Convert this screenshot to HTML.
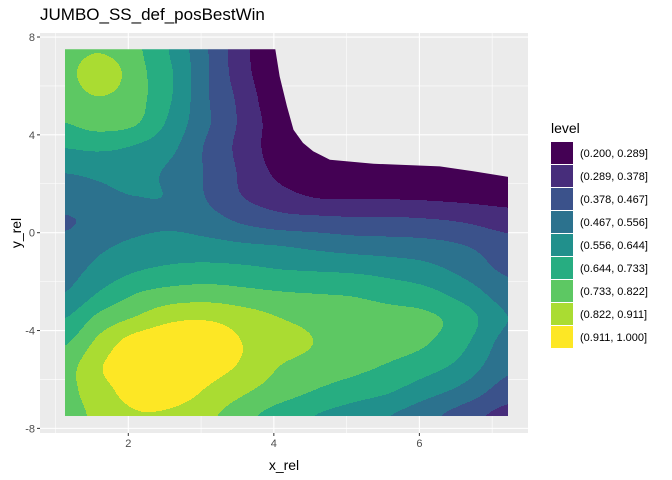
<!DOCTYPE html>
<html><head><meta charset="utf-8"><style>
body{margin:0;background:#fff;}
svg{display:block;font-family:"Liberation Sans",sans-serif;}
</style></head><body>
<svg id="chart" width="672" height="480" viewBox="0 0 672 480">
<rect x="0" y="0" width="672" height="480" fill="#fff"/>
<text x="40" y="20" font-size="17" fill="#000">JUMBO_SS_def_posBestWin</text>
<g id="panel"></g>
<g id="axes"></g>
<text x="284" y="470" font-size="14" text-anchor="middle" fill="#000">x_rel</text>
<text transform="translate(21,233) rotate(-90)" font-size="14" text-anchor="middle" fill="#000">y_rel</text>
<g id="legend"></g>
</svg>
<script>
const xs = [1.13,1.6,2.1,2.6,3.1,3.6,4.1,4.6,5.1,5.6,6.1,6.6,7.22];
const ys = [7.5,6.5,5.5,4.5,3.5,2.5,1.5,0.5,-0.5,-1.5,-2.5,-3.5,-4.5,-5.5,-6.5,-7.5];
// values in level-band units (0..9)
const z = [
[6.5,6.9,6.2,4.85,3.0,1.2,0.1,0.1,0.1,0.1,0.1,0.1,0.1],
[6.6,7.7,6.4,5.05,3.05,1.3,0.05,0.1,0.1,0.1,0.1,0.1,0.1],
[6.4,6.95,6.35,5.0,3.05,1.6,0.1,0.1,0.1,0.1,0.1,0.1,0.1],
[6.0,6.4,6.1,4.7,3.1,1.7,0.4,0.1,0.1,0.1,0.1,0.1,0.1],
[5.05,5.2,4.9,4.2,2.8,1.6,0.4,0.1,0.1,0.1,0.1,0.1,0.1],
[4.05,4.2,4.3,3.8,2.85,1.75,0.7,0.2,0.15,0.15,0.15,0.15,0.1],
[3.6,3.8,4.0,3.9,2.9,1.95,1.35,0.9,0.85,0.85,0.8,0.7,0.6],
[2.9,3.3,3.7,3.8,3.4,2.8,2.4,2.3,2.2,2.2,2.1,1.9,1.5],
[3.3,3.8,4.2,4.4,4.3,4.1,3.95,3.7,3.5,3.4,3.3,3.0,2.4],
[3.6,4.3,4.9,5.2,5.3,5.2,5.0,4.9,4.8,4.6,4.3,3.7,2.8],
[4.05,5.1,6.0,6.4,6.5,6.3,6.1,6.0,5.9,5.6,5.3,4.6,3.5],
[5.0,6.3,7.1,7.8,7.9,7.5,7.0,6.7,6.5,6.4,6.2,5.5,4.0],
[5.9,7.3,8.5,8.8,8.6,7.95,7.4,6.95,6.6,6.4,6.05,5.2,3.6],
[6.6,7.9,8.7,8.8,8.4,7.8,6.95,6.6,6.25,5.85,5.35,4.6,3.2],
[6.7,7.6,8.4,8.5,7.85,7.1,6.45,5.9,5.45,5.05,4.35,3.65,2.5],
[6.5,7.3,7.9,7.8,7.2,6.3,5.5,4.95,4.5,4.0,3.3,2.5,1.6]
];
const levelLabels = ["(0.200, 0.289]","(0.289, 0.378]","(0.378, 0.467]","(0.467, 0.556]","(0.556, 0.644]","(0.644, 0.733]","(0.733, 0.822]","(0.822, 0.911]","(0.911, 1.000]"];
const levelColors = ["#440154","#472D7B","#3B528B","#2C728E","#21908C","#27AD81","#5DC863","#AADC32","#FDE725"];
const xTicks = [2,4,6];
const yTicks = [-8,-4,0,4,8];
const naBoundary = [[4.02,7.5],[4.08,6.39],[4.18,5.17],[4.27,4.21],[4.40,3.67],[4.54,3.33],[4.77,2.98],[5.37,2.82],[6.28,2.71],[6.74,2.51],[7.22,2.28]];

const NS="http://www.w3.org/2000/svg";
const PL=40,PR=528,PT=33,PB=433;
const sx = v => 128.3 + (v-2)*72.77;
const sy = v => 232.7 - v*24.46;
const ix = px => 2 + (px-128.3)/72.77;
const iy = py => (232.7-py)/24.46;
function mk(tag,attrs,parent){const e=document.createElementNS(NS,tag);for(const k in attrs)e.setAttribute(k,attrs[k]);parent.appendChild(e);return e;}
const panel=document.getElementById('panel');
const axes=document.getElementById('axes');
const bg=mk('rect',{x:PL,y:PT,width:PR-PL,height:PB-PT,fill:'#EBEBEB'},panel);


for(let v=1;v<=7;v++){const major=v%2===0;const l=mk('line',{x1:sx(v),x2:sx(v),y1:PT,y2:PB,stroke:'#fff','stroke-width':major?1.1:0.55},panel);

}
for(let v=-8;v<=8;v+=2){const major=v%4===0;const l=mk('line',{x1:PL,x2:PR,y1:sy(v),y2:sy(v),stroke:'#fff','stroke-width':major?1.1:0.55},panel);

}
const defs=mk('defs',{},panel);
const cp=mk('clipPath',{id:'dataclip'},defs);
let pts=[[xs[0],ys[ys.length-1]],[xs[0],ys[0]]].concat(naBoundary).concat([[xs[xs.length-1],ys[ys.length-1]]]);
mk('polygon',{points:pts.map(p=>sx(p[0])+','+sy(p[1])).join(' ')},cp);
const field=mk('g',{'clip-path':'url(#dataclip)'},panel);


function fracIndex(arr,v,desc){
  let i=0;
  if(!desc){while(i<arr.length-2&&v>arr[i+1])i++;}
  else{while(i<arr.length-2&&v<arr[i+1])i++;}
  let t=(v-arr[i])/(arr[i+1]-arr[i]);t=Math.max(0,Math.min(1,t));
  return [i,t];
}
function cr(p0,p1,p2,p3,t){
  return 0.5*((2*p1)+(-p0+p2)*t+(2*p0-5*p1+4*p2-p3)*t*t+(-p0+3*p1-3*p2+p3)*t*t*t);
}
function zAt(j,i){j=Math.max(0,Math.min(ys.length-1,j));i=Math.max(0,Math.min(xs.length-1,i));return z[j][i];}
function interp(x,y){
  const [i,tx]=fracIndex(xs,x,false);
  const [j,ty]=fracIndex(ys,y,true);
  const rows=[];
  for(let dj=-1;dj<=2;dj++){
    rows.push(cr(zAt(j+dj,i-1),zAt(j+dj,i),zAt(j+dj,i+1),zAt(j+dj,i+2),tx));
  }
  return cr(rows[0],rows[1],rows[2],rows[3],ty);
}
const x0=Math.round(sx(xs[0])),x1=Math.round(sx(xs[xs.length-1]));
const y0=Math.round(sy(ys[0])),y1=Math.round(sy(ys[ys.length-1]));
for(let py=y0;py<y1;py++){
  let runStart=x0,runBand=-1;
  for(let px=x0;px<=x1;px++){
    let band=-2;
    if(px<x1){band=Math.max(0,Math.min(8,Math.floor(interp(ix(px+0.5),iy(py+0.5)))));}
    if(band!==runBand){
      if(runBand>=0){const r=mk('rect',{x:runStart,y:py,width:px-runStart,height:1.02,fill:levelColors[runBand]},field);
        
        }
      runStart=px;runBand=band;
    }
  }
}
xTicks.forEach(v=>{
  const t=mk('line',{x1:sx(v),x2:sx(v),y1:PB,y2:PB+3,stroke:'#333'},axes);
  
  
  const l=mk('text',{x:sx(v),y:PB+14,'font-size':11,'text-anchor':'middle',fill:'#4D4D4D'},axes);l.textContent=v;
  
  
});
yTicks.forEach(v=>{
  const t=mk('line',{x1:PL-3,x2:PL,y1:sy(v),y2:sy(v),stroke:'#333'},axes);
  
  
  const l=mk('text',{x:PL-5,y:sy(v)+4,'font-size':11,'text-anchor':'end',fill:'#4D4D4D'},axes);l.textContent=v;
  
  
});
const lg=document.getElementById('legend');
const lt=mk('text',{x:551,y:133,'font-size':14,fill:'#000'},lg);lt.textContent='level';


levelLabels.forEach((lab,k)=>{
  const y=142+k*23;
  const g=mk('g',{},lg);
  
  
  const r=mk('rect',{x:551,y:y,width:22,height:22,fill:levelColors[k]},g);
  
  
  const t=mk('text',{x:580,y:y+15,'font-size':11,fill:'#000'},g);t.textContent=lab;
  
  
});
</script>
</body></html>
